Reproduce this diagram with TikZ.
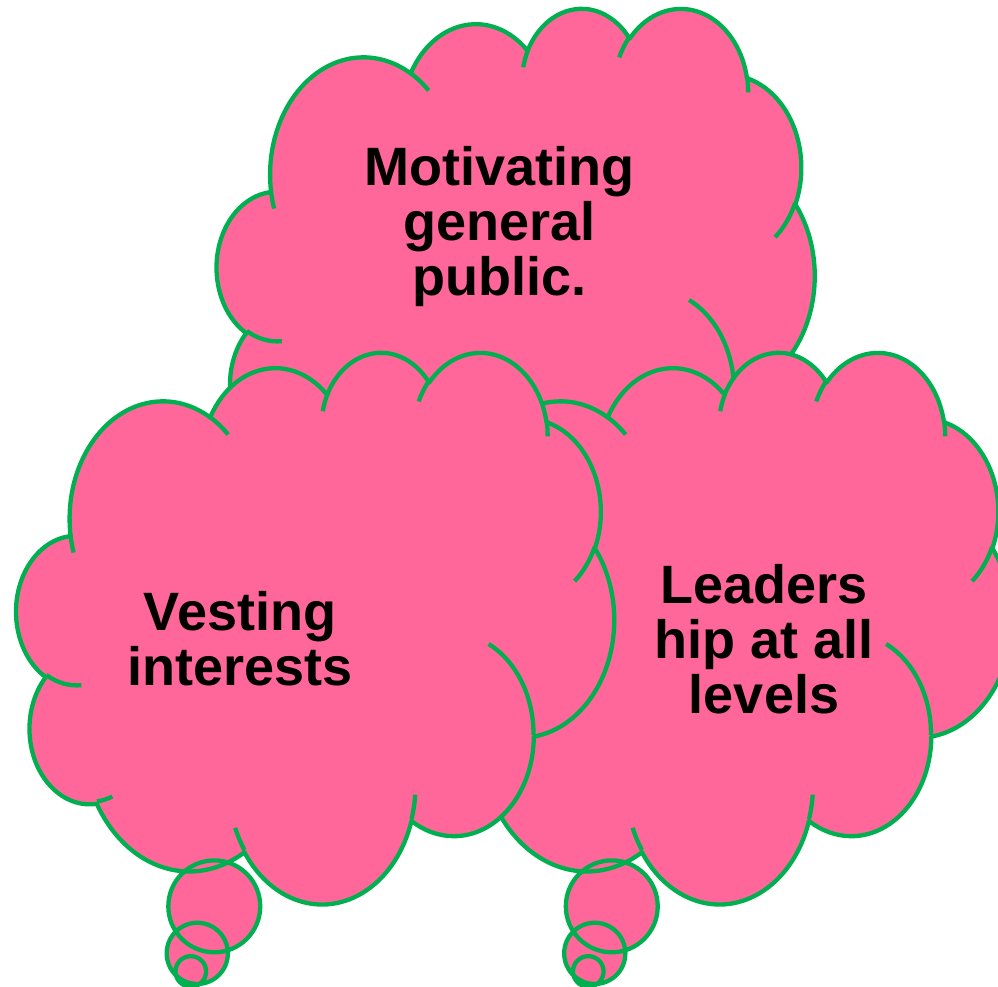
\documentclass[tikz,border=0pt]{standalone}
\usepackage{fontspec}
\setmainfont{Liberation Sans}

\definecolor{cloudpink}{RGB}{255,102,153}
\definecolor{cloudgreen}{RGB}{0,176,80}

\makeatletter
% Cloud lobes are elliptic arcs given by their visual start angle and sweep;
% TikZ arcs take parametric angles, so convert once and store the arc.
\newcommand\mkarc[5]{%
  \pgfmathsetmacro\arc@s{atan2((#2)*sin(#4),(#3)*cos(#4))}%
  \pgfmathsetmacro\arc@e{atan2((#2)*sin((#4)+(#5)),(#3)*cos((#4)+(#5)))}%
  \pgfmathsetmacro\arc@d{mod(\arc@e-(\arc@s)+720,360)}%
  \expandafter\xdef\csname #1\endcsname{arc[start angle=\arc@s,delta angle=\arc@d,x radius=#2,y radius=#3]}}
\makeatother

% outline lobes (cloud box is 432 x 432 units)
\mkarc{clA}{67.53}{91.90}{-190.4875}{123.7805}
\mkarc{clB}{53.33}{72.67}{-144.1024}{89.9452}
\mkarc{clC}{43.65}{59.45}{-145.8079}{99.7230}
\mkarc{clD}{48.57}{65.95}{-130.9861}{117.2417}
\mkarc{clE}{53.33}{72.73}{-78.7089}{109.0269}
\mkarc{clF}{67.75}{92.20}{-46.2673}{130.2690}
\mkarc{clG}{57.85}{78.67}{0.6250}{114.0333}
\mkarc{clH}{67.52}{92.15}{22.4516}{115.1726}
\mkarc{clI}{77.20}{105.43}{66.2426}{75.7110}
\mkarc{clJ}{43.60}{59.18}{-274.9421}{146.7356}
\mkarc{clK}{43.45}{59.45}{-246.8285}{152.5189}
% short inner arcs where the lobes overlap
\mkarc{inA}{43.45}{59.45}{86.7420}{26.4295}
\mkarc{inB}{43.60}{59.18}{73.6105}{11.4475}
\mkarc{inC}{67.52}{92.15}{137.6242}{14.0811}
\mkarc{inD}{67.52}{92.15}{6.4533}{15.9984}
\mkarc{inE}{57.85}{78.67}{-70.2924}{70.9174}
\mkarc{inF}{53.33}{72.73}{30.3180}{27.7515}
\mkarc{inG}{48.57}{65.95}{-13.7443}{14.8589}
\mkarc{inH}{48.57}{65.95}{-149.1815}{18.1954}
\mkarc{inI}{43.65}{59.45}{-163.4943}{17.6864}
\mkarc{inJ}{67.53}{91.90}{-66.7070}{12.3194}
\mkarc{inK}{67.53}{91.90}{157.6544}{11.8582}

\def\cloudoutline{(39.00,143.70) \clA \clB \clC \clD \clE \clF \clG \clH \clI \clJ \clK -- cycle}
\def\cloudinner{(46.93,261.77) \inA (69.28,348.99) \inB (164.78,390.90) \inC
  (288.27,347.51) \inD (341.29,229.54) \inE (417.98,153.54) \inF (383.24,54.26) \inG
  (290.78,39.52) \inH (221.41,47.20) \inI (140.00,51.92) \inJ (41.27,157.89) \inK}
% the three bubbles of the tail
\def\cloudtail{(174.27,620.44) circle[radius=15.3pt]
  (180.77,602.34) circle[radius=30.6pt]
  (197.77,555.34) circle[radius=45.95pt]}

\tikzset{
  cloudfill/.style={fill=cloudpink},
  cloudline/.style={draw=cloudgreen, line width=4.3pt, line join=round},
  cloudtext/.style={font=\bfseries\fontsize{54}{55}\selectfont, text=black,
    inner sep=0pt, anchor=base},
  cloudunits/.style={x=1.3831pt, y=-1.2766pt}
}

% centred lines, 55pt apart; the baseline is that of the first line
\newcommand\stacklines[1]{\vtop{\baselineskip=55pt\lineskiplimit=-100pt
  \halign{\hfil##\hfil\cr#1\crcr}}}

% a cloud callout whose box has its top left corner at (#1,#2)
\newcommand\thoughtcloud[2]{%
  \begin{scope}[shift={(#1,#2)}]
    \fill[cloudfill, cloudunits] \cloudoutline;
    \fill[cloudfill] \cloudtail;
    \draw[cloudline, cloudunits] \cloudoutline;
    \draw[cloudline] \cloudtail;
    \draw[cloudline, cloudunits] \cloudinner;
  \end{scope}}

\begin{document}
\begin{tikzpicture}[x=1pt, y=-1pt]
  \useasboundingbox (0,0) rectangle (998,986);

  \thoughtcloud{217}{7}
  \node[cloudtext] (motivating) at (499.5,185)
    {\stacklines{Motivating\cr general\cr public.}};

  \thoughtcloud{414}{351}
  \node[cloudtext] (leadership) at (764,603)
    {\stacklines{Leaders\cr hip at all\cr levels}};

  \thoughtcloud{16.5}{351}
  \node[cloudtext] (vesting) at (240,630)
    {\stacklines{Vesting\cr interests}};
\end{tikzpicture}
\end{document}
